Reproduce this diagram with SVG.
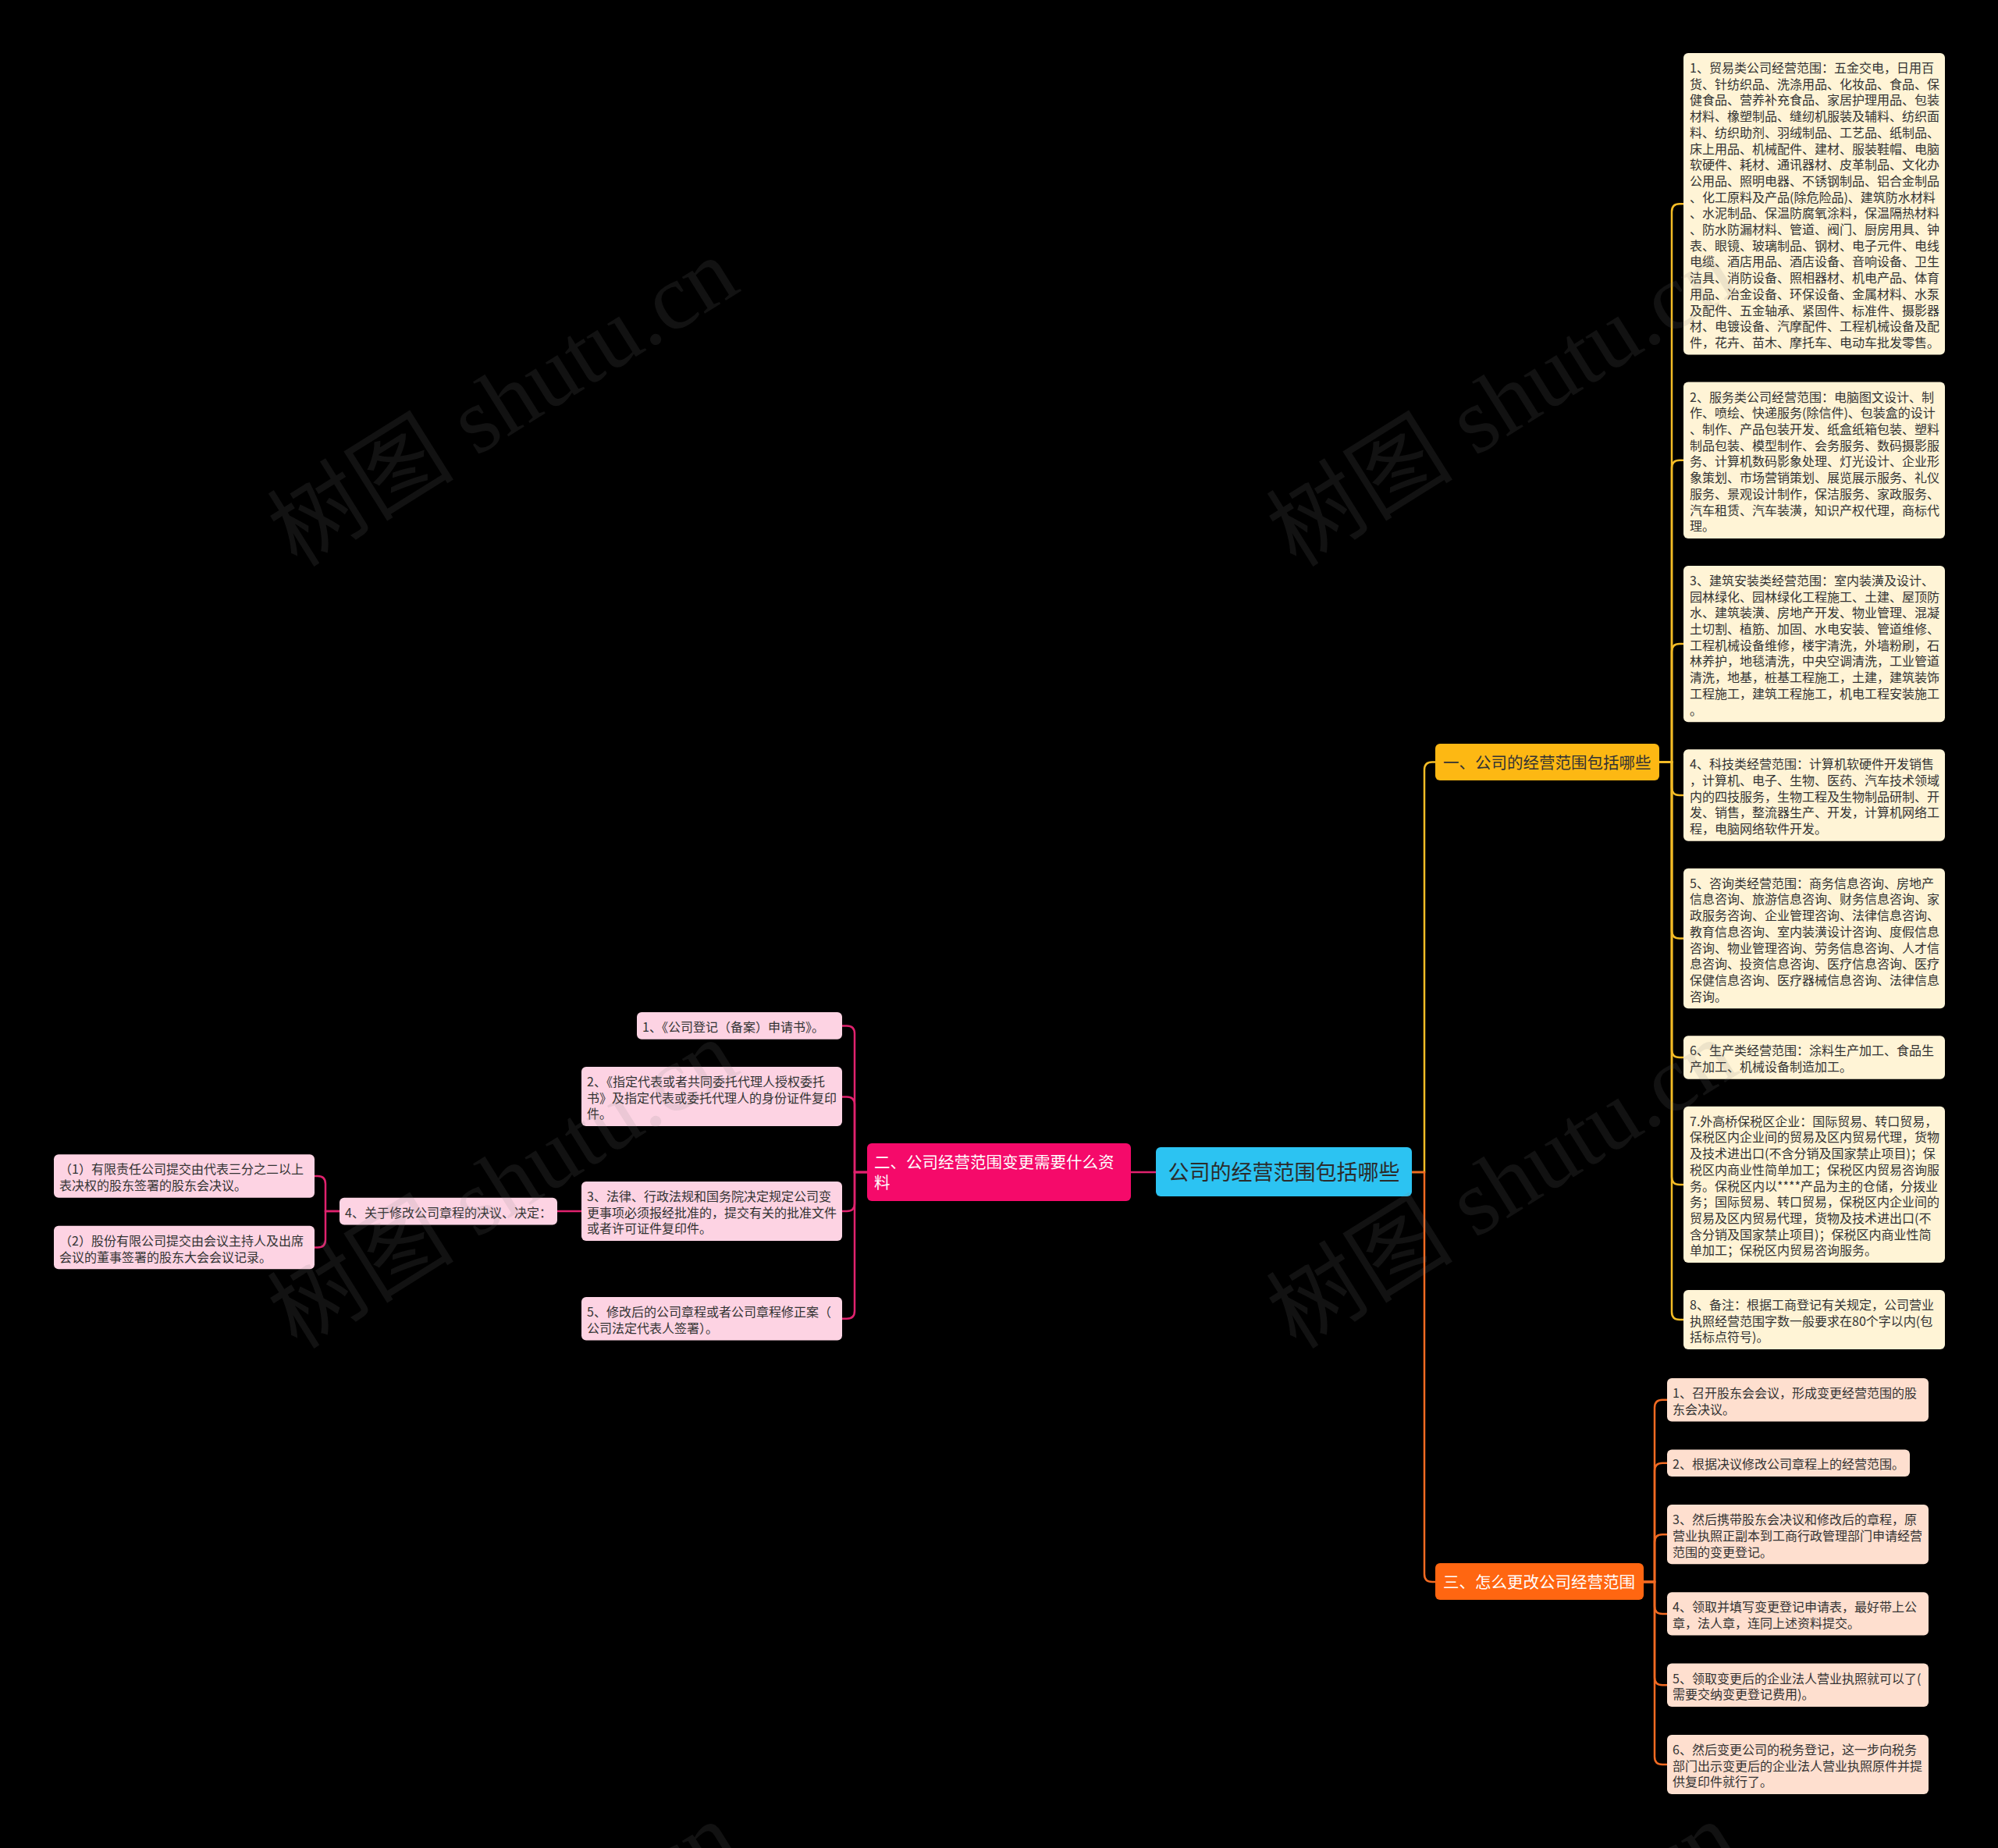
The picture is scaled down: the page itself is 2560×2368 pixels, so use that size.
<svg xmlns="http://www.w3.org/2000/svg" width="2560" height="2368" viewBox="0 0 2560 2368">
<style>
.t{font-family:"Noto Sans CJK SC","Liberation Sans",sans-serif;font-size:16px;fill:#333333}
.big{font-family:"Noto Sans CJK SC","Liberation Sans",sans-serif}
.cy{fill:#FFF4D6}
.cp{fill:#FDD3E3}
.co{fill:#FEDFCF}
.ly{fill:none;stroke:#F4BC26;stroke-width:2.5}
.lo{fill:none;stroke:#F06A22;stroke-width:2.5}
.lp{fill:none;stroke:#E0226E;stroke-width:2.5}
.wm{font-family:"Liberation Serif","Noto Sans CJK SC",serif;font-size:120px;fill:#808080;fill-opacity:0.14}
</style>
<rect x="0" y="0" width="2560" height="2368" fill="#000000"/>

<g id="connectors">
  <path class="ly" d="M1809,1502 H1825 V986.5 Q1825,976.5 1835,976.5 H1839"/>
  <path class="lo" d="M1809,1502 H1825 V2017 Q1825,2027 1835,2027 H1839"/>
  <path class="lp" d="M1481,1502 H1449"/>
  <path class="ly" d="M2126,976.5 H2142 V271.3 Q2142,261.3 2152,261.3 H2157"/>
  <path class="ly" d="M2126,976.5 H2142 V599.8 Q2142,589.8 2152,589.8 H2157"/>
  <path class="ly" d="M2126,976.5 H2142 V835 Q2142,825 2152,825 H2157"/>
  <path class="ly" d="M2126,976.5 H2142 V1009 Q2142,1019 2152,1019 H2157"/>
  <path class="ly" d="M2126,976.5 H2142 V1192.5 Q2142,1202.5 2152,1202.5 H2157"/>
  <path class="ly" d="M2126,976.5 H2142 V1345 Q2142,1355 2152,1355 H2157"/>
  <path class="ly" d="M2126,976.5 H2142 V1508 Q2142,1518 2152,1518 H2157"/>
  <path class="ly" d="M2126,976.5 H2142 V1681 Q2142,1691 2152,1691 H2157"/>
  <path class="lo" d="M2106,2027 H2120 V1803.7 Q2120,1793.7 2130,1793.7 H2136"/>
  <path class="lo" d="M2106,2027 H2120 V1884.8 Q2120,1874.8 2130,1874.8 H2136"/>
  <path class="lo" d="M2106,2027 H2120 V1976.2 Q2120,1966.2 2130,1966.2 H2136"/>
  <path class="lo" d="M2106,2027 H2120 V2057.9 Q2120,2067.9 2130,2067.9 H2136"/>
  <path class="lo" d="M2106,2027 H2120 V2149.3 Q2120,2159.3 2130,2159.3 H2136"/>
  <path class="lo" d="M2106,2027 H2120 V2251 Q2120,2261 2130,2261 H2136"/>
  <path class="lp" d="M1111,1502 H1095 V1324.4 Q1095,1314.4 1085,1314.4 H1079"/>
  <path class="lp" d="M1111,1502 H1095 V1415.5 Q1095,1405.5 1085,1405.5 H1079"/>
  <path class="lp" d="M1111,1502 H1095 V1542 Q1095,1552 1085,1552 H1079"/>
  <path class="lp" d="M1111,1502 H1095 V1679.7 Q1095,1689.7 1085,1689.7 H1079"/>
  <path class="lp" d="M745,1552 H714"/>
  <path class="lp" d="M435,1552 H417 V1517 Q417,1507 407,1507 H403"/>
  <path class="lp" d="M435,1552 H417 V1588.5 Q417,1598.5 407,1598.5 H403"/>
</g>

<g id="root">
  <rect x="1481" y="1470" width="328" height="63" rx="6" fill="#2CC3F2"/>
  <text class="big" x="1645" y="1512" font-size="27" fill="#2B2B2B" text-anchor="middle">公司的经营范围包括哪些</text>
</g>

<g id="branch1">
  <rect x="1839" y="953" width="287" height="47" rx="6" fill="#FDB813"/>
  <text class="big" x="1849" y="984.5" font-size="20.5" fill="#333333">一、公司的经营范围包括哪些</text>
</g>

<g id="branch2">
  <rect x="1111" y="1465" width="338" height="74" rx="6" fill="#F50A6A"/>
  <text class="big" font-size="20.5" fill="#FFFFFF"><tspan x="1120" y="1497">二、公司经营范围变更需要什么资</tspan><tspan x="1120" y="1523">料</tspan></text>
</g>

<g id="branch3">
  <rect x="1839" y="2003" width="267" height="47" rx="6" fill="#FF6611"/>
  <text class="big" x="1849" y="2035" font-size="20.5" fill="#FFFFFF">三、怎么更改公司经营范围</text>
</g>

<g id="y1">
  <rect class="cy" x="2157" y="68" width="335" height="386.6" rx="6"/>
  <text class="t"><tspan x="2165" y="93">1、贸易类公司经营范围：五金交电，日用百</tspan><tspan x="2165" y="113.7">货、针纺织品、洗涤用品、化妆品、食品、保</tspan><tspan x="2165" y="134.4">健食品、营养补充食品、家居护理用品、包装</tspan><tspan x="2165" y="155.1">材料、橡塑制品、缝纫机服装及辅料、纺织面</tspan><tspan x="2165" y="175.8">料、纺织助剂、羽绒制品、工艺品、纸制品、</tspan><tspan x="2165" y="196.5">床上用品、机械配件、建材、服装鞋帽、电脑</tspan><tspan x="2165" y="217.2">软硬件、耗材、通讯器材、皮革制品、文化办</tspan><tspan x="2165" y="237.9">公用品、照明电器、不锈钢制品、铝合金制品</tspan><tspan x="2165" y="258.6">、化工原料及产品(除危险品)、建筑防水材料</tspan><tspan x="2165" y="279.3">、水泥制品、保温防腐氧涂料，保温隔热材料</tspan><tspan x="2165" y="300">、防水防漏材料、管道、阀门、厨房用具、钟</tspan><tspan x="2165" y="320.7">表、眼镜、玻璃制品、钢材、电子元件、电线</tspan><tspan x="2165" y="341.4">电缆、酒店用品、酒店设备、音响设备、卫生</tspan><tspan x="2165" y="362.1">洁具、消防设备、照相器材、机电产品、体育</tspan><tspan x="2165" y="382.8">用品、冶金设备、环保设备、金属材料、水泵</tspan><tspan x="2165" y="403.5">及配件、五金轴承、紧固件、标准件、摄影器</tspan><tspan x="2165" y="424.2">材、电镀设备、汽摩配件、工程机械设备及配</tspan><tspan x="2165" y="444.9">件，花卉、苗木、摩托车、电动车批发零售。</tspan></text>
</g>

<g id="y2">
  <rect class="cy" x="2157" y="489.6" width="335" height="200.3" rx="6"/>
  <text class="t"><tspan x="2165" y="514.6">2、服务类公司经营范围：电脑图文设计、制</tspan><tspan x="2165" y="535.3">作、喷绘、快递服务(除信件)、包装盒的设计</tspan><tspan x="2165" y="556">、制作、产品包装开发、纸盒纸箱包装、塑料</tspan><tspan x="2165" y="576.7">制品包装、模型制作、会务服务、数码摄影服</tspan><tspan x="2165" y="597.4">务、计算机数码影象处理、灯光设计、企业形</tspan><tspan x="2165" y="618.1">象策划、市场营销策划、展览展示服务、礼仪</tspan><tspan x="2165" y="638.8">服务、景观设计制作，保洁服务、家政服务、</tspan><tspan x="2165" y="659.5">汽车租赁、汽车装潢，知识产权代理，商标代</tspan><tspan x="2165" y="680.2">理。</tspan></text>
</g>

<g id="y3">
  <rect class="cy" x="2157" y="724.9" width="335" height="200.3" rx="6"/>
  <text class="t"><tspan x="2165" y="749.9">3、建筑安装类经营范围：室内装潢及设计、</tspan><tspan x="2165" y="770.6">园林绿化、园林绿化工程施工、土建、屋顶防</tspan><tspan x="2165" y="791.3">水、建筑装潢、房地产开发、物业管理、混凝</tspan><tspan x="2165" y="812">土切割、植筋、加固、水电安装、管道维修、</tspan><tspan x="2165" y="832.7">工程机械设备维修，楼宇清洗，外墙粉刷，石</tspan><tspan x="2165" y="853.4">林养护，地毯清洗，中央空调清洗，工业管道</tspan><tspan x="2165" y="874.1">清洗，地基，桩基工程施工，土建，建筑装饰</tspan><tspan x="2165" y="894.8">工程施工，建筑工程施工，机电工程安装施工</tspan><tspan x="2165" y="915.5">。</tspan></text>
</g>

<g id="y4">
  <rect class="cy" x="2157" y="960.2" width="335" height="117.5" rx="6"/>
  <text class="t"><tspan x="2165" y="985.2">4、科技类经营范围：计算机软硬件开发销售</tspan><tspan x="2165" y="1005.9">，计算机、电子、生物、医药、汽车技术领域</tspan><tspan x="2165" y="1026.6">内的四技服务，生物工程及生物制品研制、开</tspan><tspan x="2165" y="1047.3">发、销售，整流器生产、开发，计算机网络工</tspan><tspan x="2165" y="1068">程，电脑网络软件开发。</tspan></text>
</g>

<g id="y5">
  <rect class="cy" x="2157" y="1112.7" width="335" height="179.6" rx="6"/>
  <text class="t"><tspan x="2165" y="1137.7">5、咨询类经营范围：商务信息咨询、房地产</tspan><tspan x="2165" y="1158.4">信息咨询、旅游信息咨询、财务信息咨询、家</tspan><tspan x="2165" y="1179.1">政服务咨询、企业管理咨询、法律信息咨询、</tspan><tspan x="2165" y="1199.8">教育信息咨询、室内装潢设计咨询、度假信息</tspan><tspan x="2165" y="1220.5">咨询、物业管理咨询、劳务信息咨询、人才信</tspan><tspan x="2165" y="1241.2">息咨询、投资信息咨询、医疗信息咨询、医疗</tspan><tspan x="2165" y="1261.9">保健信息咨询、医疗器械信息咨询、法律信息</tspan><tspan x="2165" y="1282.6">咨询。</tspan></text>
</g>

<g id="y6">
  <rect class="cy" x="2157" y="1327.3" width="335" height="55.4" rx="6"/>
  <text class="t"><tspan x="2165" y="1352.3">6、生产类经营范围：涂料生产加工、食品生</tspan><tspan x="2165" y="1373">产加工、机械设备制造加工。</tspan></text>
</g>

<g id="y7">
  <rect class="cy" x="2157" y="1417.7" width="335" height="200.3" rx="6"/>
  <text class="t"><tspan x="2165" y="1442.7">7.外高桥保税区企业：国际贸易、转口贸易，</tspan><tspan x="2165" y="1463.4">保税区内企业间的贸易及区内贸易代理，货物</tspan><tspan x="2165" y="1484.1">及技术进出口(不含分销及国家禁止项目)；保</tspan><tspan x="2165" y="1504.8">税区内商业性简单加工；保税区内贸易咨询服</tspan><tspan x="2165" y="1525.5">务。保税区内以****产品为主的仓储，分拨业</tspan><tspan x="2165" y="1546.2">务；国际贸易、转口贸易，保税区内企业间的</tspan><tspan x="2165" y="1566.9">贸易及区内贸易代理，货物及技术进出口(不</tspan><tspan x="2165" y="1587.6">含分销及国家禁止项目)；保税区内商业性简</tspan><tspan x="2165" y="1608.3">单加工；保税区内贸易咨询服务。</tspan></text>
</g>

<g id="y8">
  <rect class="cy" x="2157" y="1653" width="335" height="76.1" rx="6"/>
  <text class="t"><tspan x="2165" y="1678">8、备注：根据工商登记有关规定，公司营业</tspan><tspan x="2165" y="1698.7">执照经营范围字数一般要求在80个字以内(包</tspan><tspan x="2165" y="1719.4">括标点符号)。</tspan></text>
</g>

<g id="o1">
  <rect class="co" x="2136" y="1766" width="335" height="55.4" rx="6"/>
  <text class="t"><tspan x="2143" y="1791">1、召开股东会会议，形成变更经营范围的股</tspan><tspan x="2143" y="1811.7">东会决议。</tspan></text>
</g>
<g id="o2">
  <rect class="co" x="2136" y="1857.4" width="311" height="34.7" rx="6"/>
  <text class="t" x="2143" y="1882.4">2、根据决议修改公司章程上的经营范围。</text>
</g>
<g id="o3">
  <rect class="co" x="2136" y="1928.1" width="335" height="76.1" rx="6"/>
  <text class="t"><tspan x="2143" y="1953.1">3、然后携带股东会决议和修改后的章程，原</tspan><tspan x="2143" y="1973.8">营业执照正副本到工商行政管理部门申请经营</tspan><tspan x="2143" y="1994.5">范围的变更登记。</tspan></text>
</g>
<g id="o4">
  <rect class="co" x="2136" y="2040.2" width="335" height="55.4" rx="6"/>
  <text class="t"><tspan x="2143" y="2065.2">4、领取并填写变更登记申请表，最好带上公</tspan><tspan x="2143" y="2085.9">章，法人章，连同上述资料提交。</tspan></text>
</g>
<g id="o5">
  <rect class="co" x="2136" y="2131.6" width="335" height="55.4" rx="6"/>
  <text class="t"><tspan x="2143" y="2156.6">5、领取变更后的企业法人营业执照就可以了(</tspan><tspan x="2143" y="2177.3">需要交纳变更登记费用)。</tspan></text>
</g>
<g id="o6">
  <rect class="co" x="2136" y="2223" width="335" height="76.1" rx="6"/>
  <text class="t"><tspan x="2143" y="2248">6、然后变更公司的税务登记，这一步向税务</tspan><tspan x="2143" y="2268.7">部门出示变更后的企业法人营业执照原件并提</tspan><tspan x="2143" y="2289.4">供复印件就行了。</tspan></text>
</g>

<g id="p1">
  <rect class="cp" x="816" y="1297" width="263" height="34.7" rx="6"/>
  <text class="t" x="823" y="1322">1、《公司登记（备案）申请书》。</text>
</g>
<g id="p2">
  <rect class="cp" x="745" y="1367" width="334" height="76.1" rx="6"/>
  <text class="t"><tspan x="752" y="1392">2、《指定代表或者共同委托代理人授权委托</tspan><tspan x="752" y="1412.7">书》及指定代表或委托代理人的身份证件复印</tspan><tspan x="752" y="1433.4">件。</tspan></text>
</g>
<g id="p3">
  <rect class="cp" x="745" y="1514" width="334" height="76.1" rx="6"/>
  <text class="t"><tspan x="752" y="1539">3、法律、行政法规和国务院决定规定公司变</tspan><tspan x="752" y="1559.7">更事项必须报经批准的，提交有关的批准文件</tspan><tspan x="752" y="1580.4">或者许可证件复印件。</tspan></text>
</g>
<g id="p5">
  <rect class="cp" x="745" y="1662" width="334" height="55.4" rx="6"/>
  <text class="t"><tspan x="752" y="1687">5、修改后的公司章程或者公司章程修正案（</tspan><tspan x="752" y="1707.7">公司法定代表人签署）。</tspan></text>
</g>
<g id="p4">
  <rect class="cp" x="435" y="1534.7" width="279" height="34.7" rx="6"/>
  <text class="t" x="442" y="1559.7">4、关于修改公司章程的决议、决定：</text>
</g>
<g id="l1">
  <rect class="cp" x="69" y="1479.3" width="334" height="55.4" rx="6"/>
  <text class="t"><tspan x="76" y="1504.3">（1）有限责任公司提交由代表三分之二以上</tspan><tspan x="76" y="1525">表决权的股东签署的股东会决议。</tspan></text>
</g>
<g id="l2">
  <rect class="cp" x="69" y="1570.8" width="334" height="55.4" rx="6"/>
  <text class="t"><tspan x="76" y="1595.8">（2）股份有限公司提交由会议主持人及出席</tspan><tspan x="76" y="1616.5">会议的董事签署的股东大会会议记录。</tspan></text>
</g>

<g id="watermarks">
  <text class="wm" x="645" y="556" text-anchor="middle" transform="rotate(-32 645 516)">树图 shutu.cn</text>
  <text class="wm" x="1925" y="556" text-anchor="middle" transform="rotate(-32 1925 516)">树图 shutu.cn</text>
  <text class="wm" x="645" y="1558" text-anchor="middle" transform="rotate(-32 645 1518)">树图 shutu.cn</text>
  <text class="wm" x="1925" y="1558" text-anchor="middle" transform="rotate(-32 1925 1518)">树图 shutu.cn</text>
  <text class="wm" x="645" y="2560" text-anchor="middle" transform="rotate(-32 645 2520)">树图 shutu.cn</text>
  <text class="wm" x="1925" y="2560" text-anchor="middle" transform="rotate(-32 1925 2520)">树图 shutu.cn</text>
</g>
</svg>
